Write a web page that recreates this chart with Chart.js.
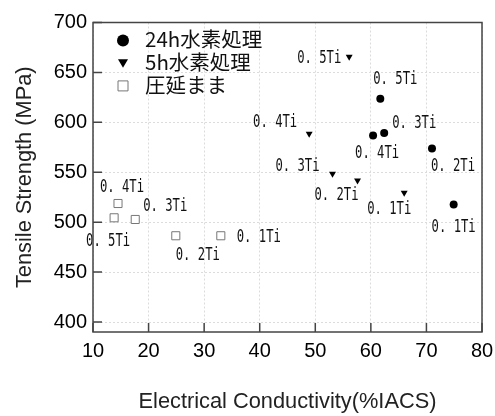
<!DOCTYPE html>
<html>
<head>
<meta charset="utf-8">
<script src="https://cdn.jsdelivr.net/npm/chart.js@4.4.0/dist/chart.umd.min.js"></script>
<style>
  body { margin: 0; background: #fff; }
  canvas { display: block; }
</style>
</head>
<body>
<canvas id="chart" width="495" height="416"></canvas>
<script>
'use strict';

// data
var seriesNames = ['24h水素処理', '5h水素処理', '圧延まま'];
var tiLabels = ['0. 1Ti', '0. 2Ti', '0. 3Ti', '0. 4Ti', '0. 5Ti'];

var h24Conductivity = [74.9, 71.0, 62.4, 60.4, 61.7];
var h24Strength = [517.7, 573.7, 589.4, 586.7, 623.7];

var h5Conductivity = [66.0, 57.6, 53.1, 48.9, 56.1];
var h5Strength = [529.5, 541.8, 548.5, 588.5, 665.8];

var rolledConductivity = [33.0, 24.9, 17.6, 14.5, 13.8];
var rolledStrength = [486.4, 486.4, 502.7, 518.7, 504.4];

var xTicks = [10, 20, 30, 40, 50, 60, 70, 80];
var yTicks = [400, 450, 500, 550, 600, 650, 700];

// where each text label sits relative to its point (px)
var labelOffsets = [
  [[0, 23], [21, 18], [30, -10], [4, 18], [15, -19]],
  [[-15, 16], [-21, 15], [-35, -8], [-34, -12], [-30, 2]],
  [[38, 1], [22, 19], [30, -13], [4, -16], [-6, 23.5]]
];

var toPoints = function(xs, ys) {
  var pts = [];
  for (var i = 0; i < xs.length; i++) {
    pts.push({x: xs[i], y: ys[i]});
  }
  return pts;
};

var frameColor = '#444';

// frame round the plot area, with ticks pointing inwards
var framePlugin = {
  id: 'frame',
  afterDraw: function(chart) {
    var a = chart.chartArea;
    var ctx = chart.ctx;
    var xs = chart.scales.x;
    var ys = chart.scales.y;
    ctx.save();
    ctx.strokeStyle = frameColor;
    ctx.lineWidth = 1.5;
    ctx.beginPath();
    xTicks.forEach(function(v) {
      var px = xs.getPixelForValue(v);
      ctx.moveTo(px, a.bottom);
      ctx.lineTo(px, a.bottom - 9);
    });
    yTicks.forEach(function(v) {
      var py = ys.getPixelForValue(v);
      ctx.moveTo(a.left, py);
      ctx.lineTo(a.left + 9, py);
    });
    ctx.stroke();
    ctx.strokeRect(a.left, a.top, a.right - a.left, a.bottom - a.top);
    ctx.restore();
  }
};

// the "0. xTi" labels beside every point
var labelPlugin = {
  id: 'tiLabels',
  afterDatasetsDraw: function(chart) {
    var ctx = chart.ctx;
    chart.data.datasets.forEach(function(ds, d) {
      var meta = chart.getDatasetMeta(d);
      meta.data.forEach(function(pt, i) {
        var off = labelOffsets[d][i];
        ctx.save();
        ctx.translate(pt.x + off[0], pt.y + off[1]);
        ctx.scale(0.66, 1);
        ctx.font = '18.5px "DejaVu Sans Mono"';
        ctx.textAlign = 'center';
        ctx.textBaseline = 'middle';
        ctx.fillStyle = '#111';
        ctx.fillText(tiLabels[i], 0, 0);
        ctx.restore();
      });
    });
  }
};

// legend in the top left corner of the plot
var legendPlugin = {
  id: 'cornerLegend',
  afterDraw: function(chart) {
    var ctx = chart.ctx;
    var a = chart.chartArea;
    var mx = a.left + 30;
    for (var i = 0; i < chart.data.datasets.length; i++) {
      var ds = chart.data.datasets[i];
      var my = a.top + 18 + i * 22.7;
      ctx.save();
      ctx.fillStyle = ds.pointBackgroundColor;
      ctx.strokeStyle = ds.pointBorderColor;
      ctx.lineWidth = 1;
      ctx.beginPath();
      if (ds.pointStyle === 'circle') {
        ctx.arc(mx, my, 6, 0, Math.PI * 2);
        ctx.fill();
      } else if (ds.pointStyle === 'triangle') {
        ctx.moveTo(mx - 5, my - 4);
        ctx.lineTo(mx + 5, my - 4);
        ctx.lineTo(mx, my + 4.5);
        ctx.closePath();
        ctx.fill();
      } else {
        ctx.rect(mx - 5, my - 5, 10, 10);
        ctx.fill();
        ctx.stroke();
      }
      ctx.font = '20.5px "Noto Sans CJK JP"';
      ctx.textAlign = 'left';
      ctx.textBaseline = 'middle';
      ctx.fillStyle = '#111';
      ctx.fillText(ds.label, a.left + 52, my - 1);
      ctx.restore();
    }
  }
};

var tickFont = {family: '"Liberation Sans", Arial, sans-serif', size: 20};
var titleFont = {family: '"Liberation Sans", Arial, sans-serif', size: 21.8};

var ctx = document.getElementById('chart').getContext('2d');
new Chart(ctx, {
  type: 'scatter',
  data: {
    datasets: [{
      label: seriesNames[0],
      data: toPoints(h24Conductivity, h24Strength),
      pointStyle: 'circle',
      pointRadius: 4,
      pointBackgroundColor: '#000',
      pointBorderColor: '#000',
      pointBorderWidth: 0
    }, {
      label: seriesNames[1],
      data: toPoints(h5Conductivity, h5Strength),
      pointStyle: 'triangle',
      rotation: 180,
      pointRadius: 4,
      pointBackgroundColor: '#000',
      pointBorderColor: '#000',
      pointBorderWidth: 0
    }, {
      label: seriesNames[2],
      data: toPoints(rolledConductivity, rolledStrength),
      pointStyle: 'rect',
      pointRadius: 5.7,
      pointBackgroundColor: '#fff',
      pointBorderColor: '#777',
      pointBorderWidth: 1
    }]
  },
  options: {
    responsive: false,
    animation: false,
    devicePixelRatio: 1,
    layout: {padding: {top: 22.5, right: 13, left: 0, bottom: 0}},
    plugins: {
      legend: {display: false},
      tooltip: {enabled: false}
    },
    scales: {
      x: {
        type: 'linear',
        min: 10,
        max: 80,
        afterBuildTicks: function(scale) {
          scale.ticks = xTicks.map(function(v) { return {value: v}; });
        },
        afterFit: function(scale) {
          scale.height = 84;
          scale.paddingLeft = 0;
          scale.paddingRight = 0;
        },
        ticks: {font: tickFont, color: '#000', padding: 7, maxRotation: 0},
        grid: {color: '#dcdcdc', drawTicks: false},
        border: {display: false, dash: [2, 2]},
        title: {
          display: true,
          text: 'Electrical Conductivity(%IACS)',
          color: '#222',
          font: titleFont,
          padding: {top: 0, bottom: 1}
        }
      },
      y: {
        type: 'linear',
        min: 390,
        max: 700,
        afterBuildTicks: function(scale) {
          scale.ticks = yTicks.map(function(v) { return {value: v}; });
        },
        afterFit: function(scale) {
          scale.width = 93;
          scale.paddingTop = 0;
          scale.paddingBottom = 0;
        },
        ticks: {font: tickFont, color: '#000', padding: 6},
        grid: {color: '#dcdcdc', drawTicks: false},
        border: {display: false, dash: [2, 2]},
        title: {
          display: true,
          text: 'Tensile Strength (MPa)',
          color: '#222',
          font: titleFont,
          padding: {top: 12, bottom: 0}
        }
      }
    }
  },
  plugins: [framePlugin, labelPlugin, legendPlugin]
});
</script>
</body>
</html>
